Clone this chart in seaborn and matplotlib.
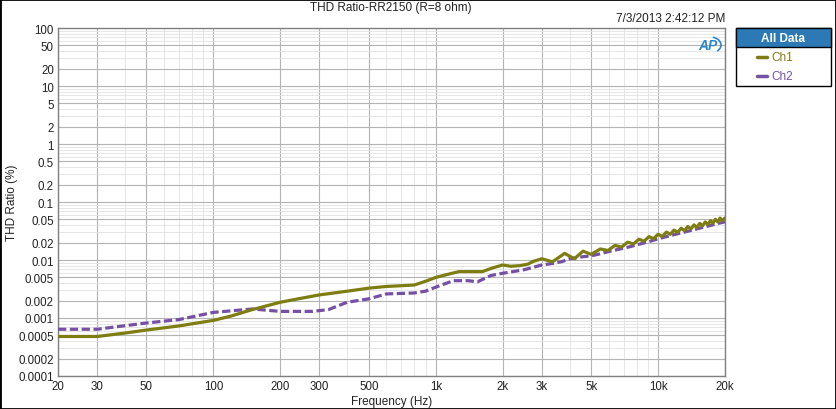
import seaborn as sns
import matplotlib.pyplot as plt
import matplotlib.ticker as mticker
from matplotlib.patches import Rectangle, Arc
import pandas as pd

# Ch1 (solid olive)
ch1_freq = [20, 30, 40, 50, 70, 100, 120, 150, 200, 250, 300, 400, 500, 600, 700, 800,
            900, 1000, 1100, 1270, 1620, 1800, 2000, 2170, 2400, 2600, 2750, 3000, 3350,
            3800, 4200, 4600, 5000, 5500, 5950, 6400, 6850, 7300, 7750, 8200, 8650, 9100,
            9550, 10000, 10450, 10900, 11350, 11800, 12250, 12700, 13150, 13600, 14050,
            14500, 14950, 15400, 15850, 16300, 16750, 17200, 17650, 18100, 18550, 19000,
            19450, 20000]
ch1_thd = [0.00048, 0.00048, 0.00055, 0.00062, 0.00073, 0.00091, 0.00108, 0.0014, 0.00187,
           0.0022, 0.0025, 0.0029, 0.00327, 0.0035, 0.0036, 0.0037, 0.0043, 0.0050, 0.0055,
           0.0063, 0.0063, 0.0073, 0.0082, 0.0078, 0.0080, 0.0085, 0.0095, 0.0105, 0.0093,
           0.0130, 0.0105, 0.0142, 0.0125, 0.0155, 0.0146, 0.0178, 0.0167, 0.0203, 0.0189,
           0.0228, 0.0211, 0.0253, 0.0233, 0.0278, 0.0255, 0.0303, 0.0277, 0.0328, 0.0299,
           0.0353, 0.0321, 0.0378, 0.0343, 0.0403, 0.0365, 0.0428, 0.0387, 0.0453, 0.0409,
           0.0478, 0.0431, 0.0503, 0.0453, 0.0528, 0.0475, 0.0530]

# Ch2 (dashed purple)
ch2_freq = [20, 30, 50, 70, 100, 150, 200, 280, 330, 400, 500, 600, 800, 900, 1000, 1200,
            1400, 1540, 1770, 2000, 2500, 3000, 3400, 3700, 4000, 4200, 4600, 5000, 5500,
            6000, 6500, 7000, 7500, 8000, 9000, 10000, 11000, 12000, 13000, 14000, 15000,
            16000, 17000, 18000, 19000, 20000]
ch2_thd = [0.00064, 0.00064, 0.00082, 0.00094, 0.00125, 0.00143, 0.0013, 0.0013, 0.0014,
           0.00187, 0.00214, 0.0026, 0.0027, 0.0029, 0.0034, 0.0044, 0.0044, 0.0042, 0.0054,
           0.0059, 0.0068, 0.0082, 0.0088, 0.0094, 0.0105, 0.0108, 0.0114, 0.0118, 0.0128,
           0.0140, 0.0150, 0.0160, 0.0170, 0.0182, 0.0205, 0.0232, 0.0255, 0.0278, 0.0300,
           0.0322, 0.0345, 0.0368, 0.0390, 0.0412, 0.0435, 0.0455]

x_ticks = [20, 30, 50, 100, 200, 300, 500, 1000, 2000, 3000, 5000, 10000, 20000]
x_labels = ["20", "30", "50", "100", "200", "300", "500", "1k", "2k", "3k", "5k", "10k", "20k"]
y_ticks = [100, 50, 20, 10, 5, 2, 1, 0.5, 0.2, 0.1, 0.05, 0.02, 0.01, 0.005, 0.002, 0.001,
           0.0005, 0.0002, 0.0001]
y_labels = ["100", "50", "20", "10", "5", "2", "1", "0.5", "0.2", "0.1", "0.05", "0.02",
            "0.01", "0.005", "0.002", "0.001", "0.0005", "0.0002", "0.0001"]

ch1_color = "#7d7d12"
ch2_color = "#7550a5"

sns.set_style("white")
plt.rcParams["font.family"] = ["Liberation Sans", "DejaVu Sans"]

df1 = pd.DataFrame({"freq": ch1_freq, "thd": ch1_thd})
df2 = pd.DataFrame({"freq": ch2_freq, "thd": ch2_thd})

fig = plt.figure(figsize=(8.36, 4.10), dpi=100)
W, H = 836, 410
ax = fig.add_axes([58 / W, 1 - 377 / H, (725 - 58) / W, (377 - 29) / H])

sns.lineplot(data=df2, x="freq", y="thd", ax=ax, color=ch2_color, lw=2.3, zorder=3)
ax.lines[-1].set_dashes([2.6, 1.1])
sns.lineplot(data=df1, x="freq", y="thd", ax=ax, color=ch1_color, lw=2.3, zorder=4)

ax.set_xscale("log")
ax.set_yscale("log")
ax.set_xlim(20, 20000)
ax.set_ylim(0.0001, 100)
ax.set_xticks(x_ticks)
ax.set_xticklabels(x_labels)
ax.set_yticks(y_ticks)
ax.set_yticklabels(y_labels)
ax.xaxis.set_minor_locator(mticker.LogLocator(base=10, subs=range(2, 10), numticks=20))
ax.yaxis.set_minor_locator(mticker.LogLocator(base=10, subs=range(2, 10), numticks=20))
ax.xaxis.set_minor_formatter(mticker.NullFormatter())
ax.yaxis.set_minor_formatter(mticker.NullFormatter())
ax.grid(which="major", color="#b4b4b4", lw=0.8)
ax.grid(which="minor", color="#e2e2e2", lw=0.6)
ax.tick_params(which="both", length=0, labelsize=8.3, colors="#222222", pad=3)
for s in ax.spines.values():
    s.set_color("#808080")
    s.set_linewidth(1)

ax.set_xlabel("Frequency (Hz)", fontsize=8.5, labelpad=2, color="#222222")
ax.set_ylabel("")
fig.text(12 / W, 1 - 203 / H, "THD Ratio (%)", rotation=90, ha="center", va="center",
         fontsize=8.5, color="#222222")

fig.text(391 / W, 1 - 8 / H, "THD Ratio-RR2150 (R=8 ohm)", ha="center", va="center",
         fontsize=8.5, color="#222222")
fig.text(725 / W, 1 - 19 / H, "7/3/2013 2:42:12 PM", ha="right", va="center",
         fontsize=8.5, color="#222222")

# AP logo
fig.text(708 / W, 1 - 46 / H, "AP", ha="center", va="center", fontsize=10,
         fontweight="bold", style="italic", color="#2f86c8")
fig.patches.append(Arc((710 / W, 1 - 46 / H), 22 / W, 16 / H, theta1=-60, theta2=80,
                       transform=fig.transFigure, color="#2f86c8", lw=1.2))

# legend panel
fig.patches.append(Rectangle((736 / W, 1 - 87 / H), 95 / W, 58 / H, transform=fig.transFigure,
                             facecolor="white", edgecolor="black", lw=1))
fig.patches.append(Rectangle((736 / W, 1 - 48 / H), 95 / W, 19 / H, transform=fig.transFigure,
                             facecolor="#2b7ab6", edgecolor="black", lw=1))
fig.text(783 / W, 1 - 38.5 / H, "All Data", ha="center", va="center", fontsize=8.5,
         fontweight="bold", color="white")
for y, name, col in [(58, "Ch1", ch1_color), (77, "Ch2", ch2_color)]:
    fig.add_artist(plt.Line2D([757 / W, 767 / W], [1 - y / H, 1 - y / H], color=col, lw=2.5,
                              transform=fig.transFigure))
    fig.text(771 / W, 1 - y / H, name, ha="left", va="center", fontsize=8.5, color=col)

# outer frame
fig.patches.append(Rectangle((0, 0), 1, 1, transform=fig.transFigure, fill=False,
                             edgecolor="black", lw=2))

fig.savefig("out.png", dpi=100)
